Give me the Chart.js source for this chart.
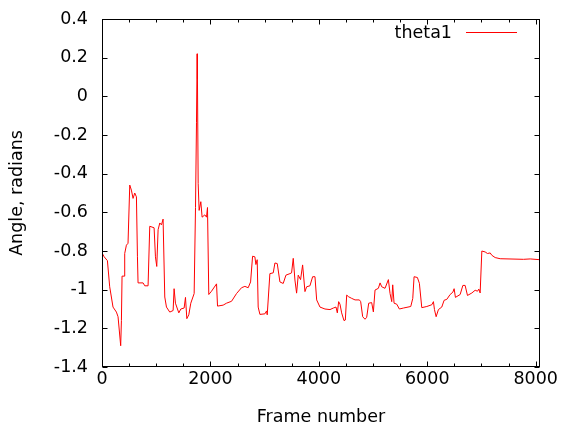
<!DOCTYPE html>
<html>
<head>
<meta charset="utf-8">
<script src="https://cdn.jsdelivr.net/npm/chart.js@4.4.1/dist/chart.umd.min.js"></script>
<style>
  html, body { margin: 0; padding: 0; background: #fff; }
</style>
</head>
<body>
<canvas id="chart" width="563" height="430"></canvas>
<script>
// values
const frames = [
  0, 40, 100, 142, 203, 266, 296, 345, 358, 370, 406, 419, 450, 480, 512, 542, 573, 604, 635, 654,
  665, 758, 789, 850, 881, 961, 986, 1010, 1035, 1066, 1097, 1127, 1158, 1189, 1250, 1312, 1330, 1355, 1392, 1417,
  1454, 1515, 1540, 1565, 1601, 1638, 1700, 1725, 1743, 1755, 1761, 1774, 1792, 1823, 1847, 1897, 1928, 1946, 1970, 2020,
  2113, 2131, 2235, 2297, 2390, 2482, 2574, 2636, 2697, 2741, 2778, 2820, 2839, 2863, 2881, 2913, 3005, 3036, 3048, 3097,
  3159, 3190, 3233, 3282, 3343, 3393, 3467, 3497, 3528, 3559, 3590, 3620, 3663, 3701, 3744, 3775, 3836, 3886, 3929, 3960,
  4021, 4113, 4206, 4267, 4317, 4341, 4366, 4390, 4421, 4464, 4489, 4514, 4551, 4606, 4668, 4748, 4772, 4809, 4852, 4883,
  4920, 4975, 5006, 5037, 5098, 5130, 5160, 5221, 5283, 5314, 5345, 5363, 5388, 5437, 5486, 5560, 5696, 5733, 5757, 5818,
  5855, 5899, 5992, 6084, 6114, 6133, 6164, 6206, 6268, 6311, 6361, 6422, 6472, 6496, 6520, 6607, 6657, 6699, 6742, 6823,
  6884, 6927, 6952, 6976, 7007, 7068, 7111, 7161, 7191, 7253, 7345, 7776, 7899, 8075
];
const theta1 = [
  -0.81, -0.83, -0.85, -0.985, -1.09, -1.116, -1.14, -1.29, -1.16, -0.93, -0.93, -0.813, -0.77, -0.76, -0.459, -0.485, -0.528, -0.50, -0.52, -0.83,
  -0.965, -0.965, -0.98, -0.98, -0.672, -0.68, -0.83, -0.88, -0.69, -0.655, -0.665, -0.635, -1.038, -1.09, -1.116, -1.108, -0.995, -1.07, -1.10, -1.12,
  -1.10, -1.095, -1.04, -1.15, -1.13, -1.07, -1.02, -0.575, -0.137, 0.22, 0.09, -0.45, -0.59, -0.545, -0.625, -0.613, -0.625, -0.575, -1.025, -1.008,
  -0.97, -1.085, -1.08, -1.07, -1.06, -1.02, -0.99, -0.983, -0.99, -0.96, -0.827, -0.83, -0.87, -0.845, -1.09, -1.128, -1.125, -1.11, -1.13, -0.917,
  -0.913, -0.862, -0.865, -0.96, -0.968, -0.925, -0.917, -0.913, -0.838, -0.95, -1.018, -0.925, -0.948, -0.872, -1.01, -0.985, -0.98, -0.933, -0.933, -1.053,
  -1.09, -1.10, -1.103, -1.095, -1.09, -1.12, -1.062, -1.075, -1.12, -1.16, -1.157, -1.028, -1.037, -1.045, -1.053, -1.053, -1.062, -1.14, -1.153, -1.143,
  -1.07, -1.067, -1.115, -1.002, -0.993, -0.965, -0.985, -0.993, -0.948, -1.02, -1.062, -0.975, -1.07, -1.075, -1.10, -1.095, -1.087, -1.045, -0.933, -0.937,
  -0.967, -1.093, -1.087, -1.078, -1.062, -1.103, -1.14, -1.103, -1.09, -1.055, -1.05, -1.025, -1.013, -0.995, -1.04, -1.025, -0.978, -0.978, -1.03, -1.017,
  -1.003, -1.008, -0.997, -1.017, -0.80, -0.805, -0.813, -0.81, -0.822, -0.834, -0.84, -0.843, -0.841, -0.845
];
const xTicks = [0, 2000, 4000, 6000, 8000];
const xMinorTicks = [500, 1000, 1500, 2500, 3000, 3500, 4500, 5000, 5500, 6500, 7000, 7500];
const yTicks = [-1.4, -1.2, -1, -0.8, -0.6, -0.4, -0.2, 0, 0.2, 0.4];

const FONT = "'DejaVu Sans', sans-serif";

// gnuplot-like frame with inward tick marks + key in the top right
const frameTicks = {
  id: "frameTicks",
  afterDraw(chart) {
    const { ctx, chartArea: a, scales: { x, y } } = chart;
    ctx.save();
    ctx.strokeStyle = "#000";
    ctx.lineWidth = 1;
    const L = Math.round(a.left) + .5, R = Math.round(a.right) - .5;
    const T = Math.round(a.top) + .5, B = Math.round(a.bottom) - .5;
    ctx.strokeRect(L, T, R - L, B - T);
    ctx.beginPath();
    const xTick = (v, len) => {
      const px = Math.round(x.getPixelForValue(v)) + .5;
      ctx.moveTo(px, B); ctx.lineTo(px, B - len);
      ctx.moveTo(px, T); ctx.lineTo(px, T + len);
    };
    xTicks.forEach(v => xTick(v, 5));
    xMinorTicks.forEach(v => xTick(v, 3));
    yTicks.forEach(v => {
      const py = Math.round(y.getPixelForValue(v)) + .5;
      ctx.moveTo(L, py); ctx.lineTo(L + 5, py);
      ctx.moveTo(R, py); ctx.lineTo(R - 5, py);
    });
    ctx.stroke();

    const ds = chart.data.datasets[0];
    ctx.font = "17.5px " + FONT;
    ctx.fillStyle = "#000";
    ctx.textAlign = "right";
    ctx.textBaseline = "alphabetic";
    ctx.fillText(ds.label, 452, 38);
    ctx.strokeStyle = ds.borderColor;
    ctx.beginPath();
    ctx.moveTo(466, 32.5); ctx.lineTo(517, 32.5);
    ctx.stroke();
    ctx.restore();
  }
};

new Chart(document.getElementById("chart"), {
  type: "line",
  data: {
    datasets: [{
      label: "theta1",
      data: frames.map((f, i) => ({ x: f, y: theta1[i] })),
      borderColor: "#ff0000",
      borderWidth: 1,
      pointRadius: 0,
      tension: 0,
      fill: false,
    }],
  },
  options: {
    responsive: false,
    animation: false,
    devicePixelRatio: 1,
    layout: { padding: { top: 19, right: 23, bottom: 0, left: 0 } },
    plugins: { legend: { display: false }, tooltip: { enabled: false } },
    scales: {
      x: {
        type: "linear",
        min: 0,
        max: 8080,
        afterBuildTicks: s => { s.ticks = xTicks.map(v => ({ value: v })); },
        afterFit: s => { s.height = 63; s.paddingLeft = 0; s.paddingRight = 0; },
        grid: { display: false, drawTicks: false },
        border: { display: false },
        ticks: {
          color: "#000", padding: 2, maxRotation: 0, autoSkip: false, font: { family: FONT, size: 17.5 },
          callback: v => String(v),
        },
        title: { display: true, text: "Frame number", color: "#000", padding: { top: 0, bottom: 2 }, font: { family: FONT, size: 17.5 } },
      },
      y: {
        type: "linear",
        min: -1.4,
        max: 0.4,
        afterBuildTicks: s => { s.ticks = yTicks.map(v => ({ value: v })); },
        afterFit: s => { s.width = 102; s.paddingTop = 0; s.paddingBottom = 0; },
        grid: { display: false, drawTicks: false },
        border: { display: false },
        ticks: {
          color: "#000", padding: 14, autoSkip: false, font: { family: FONT, size: 17.5 },
          callback: v => String(Number(v.toFixed(1)) || 0),
        },
        title: { display: true, text: "Angle, radians", color: "#000", padding: { top: 7, bottom: 0 }, font: { family: FONT, size: 17.5 } },
      },
    },
  },
  plugins: [frameTicks],
});
</script>
</body>
</html>
